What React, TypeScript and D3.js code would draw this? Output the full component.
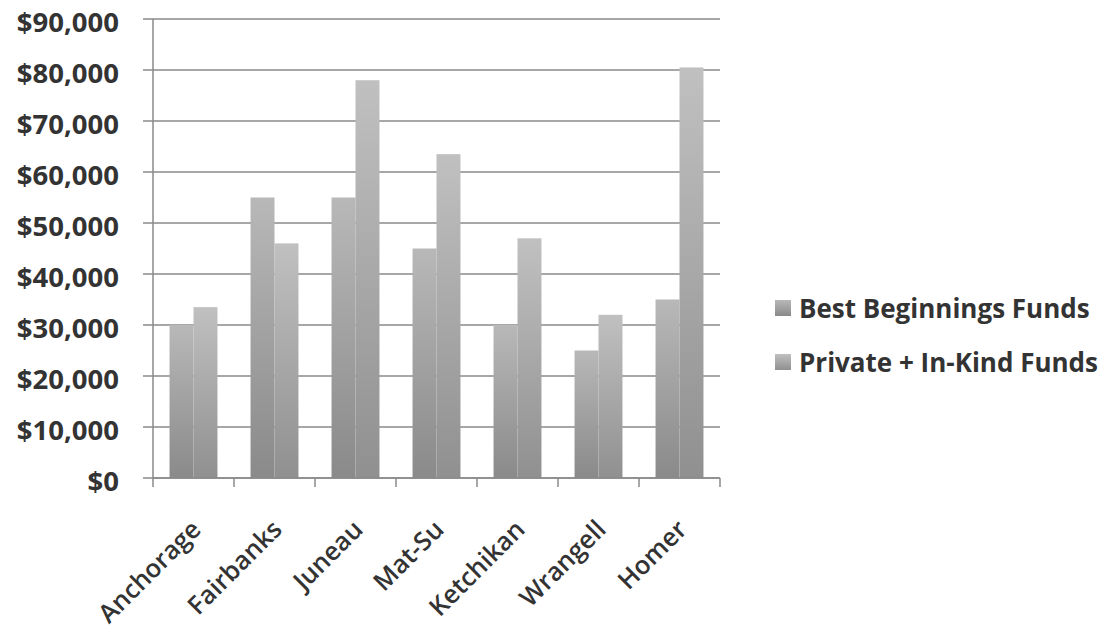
import React from "react";
import * as d3 from "d3";

const categories = ["Anchorage", "Fairbanks", "Juneau", "Mat-Su", "Ketchikan", "Wrangell", "Homer"];
const seriesNames = ["Best Beginnings Funds", "Private + In-Kind Funds"];
const bestBeginnings = [30000, 55000, 55000, 45000, 30000, 25000, 35000];
const privateInKind = [33500, 46000, 78000, 63500, 47000, 32000, 80500];
const yTicks = [0, 10000, 20000, 30000, 40000, 50000, 60000, 70000, 80000, 90000];

const W = 1108;
const H = 632;
const plot = { left: 153, right: 720, top: 19, bottom: 478 };
const gradIds = ["gradBB", "gradPI"];
const gradStops = [
  ["#b8b8b8", "#8a8a8a"],
  ["#c0c0c0", "#909090"],
];

export default function App() {
  const x = d3.scaleBand<string>().domain(categories).range([plot.left, plot.right]).paddingInner(0).paddingOuter(0);
  const y = d3.scaleLinear().domain([0, 90000]).range([plot.bottom, plot.top]);
  const inner = d3.scaleBand<number>().domain([0, 1]).range([0, x.bandwidth()]).paddingInner(0).paddingOuter(0.69);
  const fmt = (v: number) => "$" + d3.format(",")(v);
  const series = [bestBeginnings, privateInKind];
  const font = "'Open Sans', 'DejaVu Sans', sans-serif";
  const gridColor = "#8a8a8a";

  return (
    <svg width={W} height={H} style={{ position: "absolute", left: 0, top: 0, background: "#fff" }}>
      <defs>
        {gradIds.map((id, i) => (
          <linearGradient key={id} id={id} x1="0" y1="0" x2="0" y2="1">
            <stop offset="0%" stopColor={gradStops[i][0]} />
            <stop offset="100%" stopColor={gradStops[i][1]} />
          </linearGradient>
        ))}
      </defs>

      {/* horizontal gridlines and y ticks */}
      {yTicks.map((t) => (
        <g key={t}>
          <line x1={plot.left} x2={plot.right} y1={y(t)} y2={y(t)} stroke={gridColor} strokeWidth={1.5} />
          <line x1={plot.left - 10} x2={plot.left} y1={y(t)} y2={y(t)} stroke={gridColor} strokeWidth={1.5} />
          <text x={119} y={y(t) + 13} textAnchor="end" fontFamily={font} fontWeight={700} fontSize={27.5} fill="#333">
            {fmt(t)}
          </text>
        </g>
      ))}

      {/* bars */}
      {categories.map((c, ci) => (
        <g key={c} transform={`translate(${x(c)},0)`}>
          {series.map((s, si) => (
            <rect
              key={si}
              x={inner(si)}
              y={y(s[ci])}
              width={inner.bandwidth()}
              height={plot.bottom - y(s[ci])}
              fill={`url(#${gradIds[si]})`}
            />
          ))}
        </g>
      ))}

      {/* axes */}
      <line x1={plot.left} x2={plot.left} y1={plot.top} y2={plot.bottom} stroke={gridColor} strokeWidth={1.5} />
      <line x1={plot.left} x2={plot.right} y1={plot.bottom} y2={plot.bottom} stroke={gridColor} strokeWidth={1.5} />
      {[...categories.map((c) => x(c) as number), plot.right].map((px, i) => (
        <line key={i} x1={px} x2={px} y1={plot.bottom} y2={plot.bottom + 9} stroke={gridColor} strokeWidth={1.5} />
      ))}

      {/* category labels */}
      {categories.map((c) => {
        const cx = (x(c) as number) + x.bandwidth() / 2 + 9;
        const cy = plot.bottom + 53;
        return (
          <text
            key={c}
            transform={`translate(${cx},${cy}) rotate(-45)`}
            textAnchor="end"
            fontFamily={font}
            fontWeight={600}
            fontSize={25.5}
            fill="#333"
          >
            {c}
          </text>
        );
      })}

      {/* legend */}
      {seriesNames.map((n, i) => (
        <g key={n} transform={`translate(775,${300 + i * 54})`}>
          <rect x={0} y={0} width={16} height={16} fill={`url(#${gradIds[i]})`} />
          <text x={24} y={18} fontFamily={font} fontWeight={700} fontSize={26} fill="#333">
            {n}
          </text>
        </g>
      ))}
    </svg>
  );
}
